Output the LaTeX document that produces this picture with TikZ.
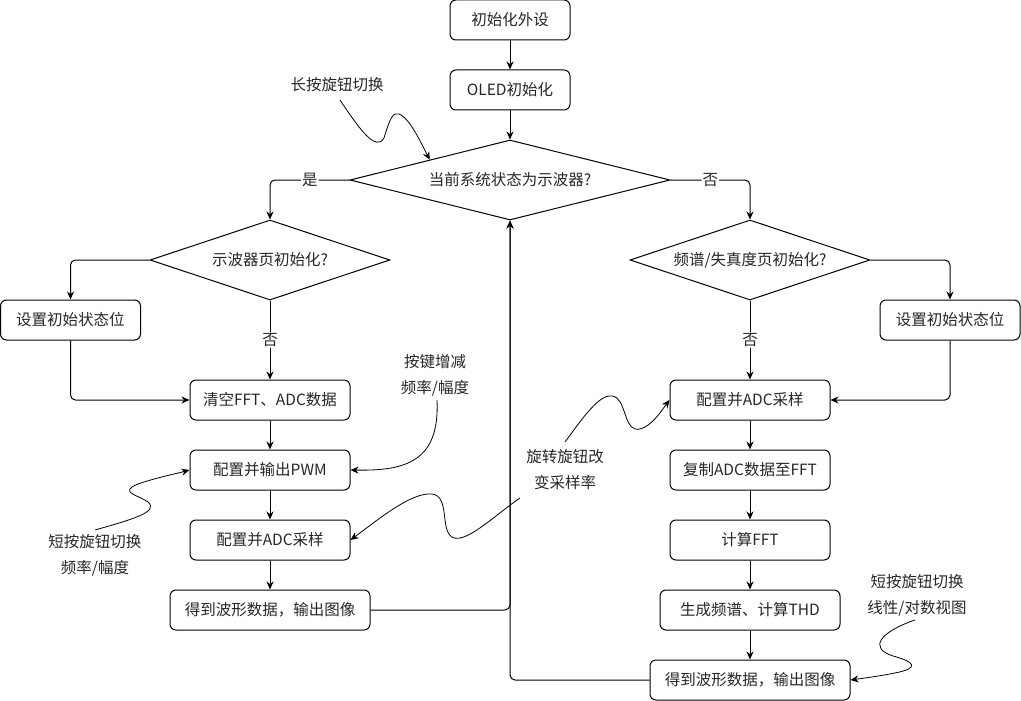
\documentclass[tikz,border=0pt]{standalone}
\usepackage{fontspec}
\setmainfont{Noto Sans CJK SC}
\usetikzlibrary{shapes.geometric,arrows.meta,calc}
\begin{document}
\begin{tikzpicture}[x=1pt,y=-1pt,
  every node/.style={font=\fontsize{15.5}{18}\selectfont, text=black!85},
  box/.style={draw=black, rounded corners=6pt, minimum height=40pt, inner sep=0pt, line width=1pt},
  dec/.style={draw=black, diamond, inner sep=0pt, line width=1pt},
  arr/.style={-{Stealth[length=8pt,width=7pt]}, line width=1pt, rounded corners=5pt},
  carr/.style={-{Stealth[length=8pt,width=7pt]}, line width=0.8pt},
  lbl/.style={fill=white, inner sep=1pt},
  note/.style={align=center, font=\fontsize{15.5}{26}\selectfont, inner sep=0pt}]
\useasboundingbox (0,0) rectangle (1021,701);

\node[box, minimum width=120pt] (init) at (510,20) {初始化外设};
\node[box, minimum width=120pt] (oled) at (510,90) {OLED初始化};
\node[dec, aspect=4, minimum width=320pt, minimum height=80pt] (d0) at (510,180) {当前系统状态为示波器?};
\node[dec, aspect=3, minimum width=240pt, minimum height=80pt] (d1) at (270,260) {示波器页初始化?};
\node[dec, aspect=3, minimum width=240pt, minimum height=80pt] (d2) at (750,260) {频谱/失真度页初始化?};
\node[box, minimum width=140pt] (s1) at (70.5,320) {设置初始状态位};
\node[box, minimum width=140pt] (s2) at (950,320) {设置初始状态位};
\node[box, minimum width=160pt] (clr) at (270,400) {清空FFT、ADC数据};
\node[box, minimum width=160pt] (pwm) at (270,470) {配置并输出PWM};
\node[box, minimum width=160pt] (adcL) at (270,540) {配置并ADC采样};
\node[box, minimum width=200pt] (outL) at (270,610) {得到波形数据，输出图像};
\node[box, minimum width=160pt] (adcR) at (750,400) {配置并ADC采样};
\node[box, minimum width=160pt] (copy) at (750,470) {复制ADC数据至FFT};
\node[box, minimum width=160pt] (fft) at (750,540) {计算FFT};
\node[box, minimum width=180pt] (thd) at (750,610) {生成频谱、计算THD};
\node[box, minimum width=200pt] (outR) at (750,680) {得到波形数据，输出图像};

\node[note] (tLong) at (337,85) {长按旋钮切换};
\node[note] (tKey) at (435,375) {按键增减\\频率/幅度};
\node[note] (tRot) at (565,470) {旋转旋钮改\\变采样率};
\node[note] (tShL) at (95,555) {短按旋钮切换\\频率/幅度};
\node[note] (tShR) at (917,595) {短按旋钮切换\\线性/对数视图};

\coordinate (cLong) at (340,100);
\coordinate (cKey) at (437,400);
\coordinate (cRotR) at (565,442);
\coordinate (cRotL) at (520,498);
\coordinate (cShL) at (95,530);
\coordinate (cShR) at (915,620);

% main flow
\draw[arr] (init) -- (oled);
\draw[arr] (oled) -- (d0);
\draw[arr] (d0.west) -| node[lbl, pos=0.25] {是} (d1.north);
\draw[arr] (d0.east) -| node[lbl, pos=0.25] {否} (d2.north);
\draw[arr] (d1.west) -| (s1.north);
\draw[arr] (d1.south) -- node[lbl] {否} (clr.north);
\draw[arr] (s1.south) |- (clr.west);
\draw[arr] (clr) -- (pwm);
\draw[arr] (pwm) -- (adcL);
\draw[arr] (adcL) -- (outL);
\draw[arr] (outL.east) -| (d0.south);
\draw[arr] (outR.west) -| (d0.south);
\draw[arr] (d2.east) -| (s2.north);
\draw[arr] (d2.south) -- node[lbl] {否} (adcR.north);
\draw[arr] (s2.south) |- (adcR.east);
\draw[arr] (adcR) -- (copy);
\draw[arr] (copy) -- (fft);
\draw[arr] (fft) -- (thd);
\draw[arr] (thd) -- (outR);

% annotation curves
\draw[carr] (cLong) .. controls (360,130) and (376,152) .. (384,138)
  .. controls (390,118) and (393,112) .. (399,114)
  .. controls (410,118) and (422,145) .. ($(d0.west)!0.5!(d0.north)$);
\draw[carr] (cKey) .. controls (440,462) and (405,471) .. (pwm.east);
\draw[carr] (cRotR) .. controls (585,415) and (603,388) .. (617,398)
  .. controls (627,408) and (625,432) .. (640,429)
  .. controls (652,426) and (662,410) .. (adcR.west);
\draw[carr] (cRotL) .. controls (495,515) and (465,545) .. (452,537)
  .. controls (440,530) and (450,496) .. (432,494)
  .. controls (412,492) and (380,518) .. (adcL.east);
\draw[carr] (cShL) .. controls (130,520) and (160,512) .. (148,502)
  .. controls (138,495) and (118,492) .. (138,484)
  .. controls (155,478) and (175,474) .. (pwm.west);
\draw[carr] (cShR) .. controls (880,632) and (868,648) .. (893,656)
  .. controls (915,662) and (920,668) .. (895,673)
  .. controls (880,676) and (865,678) .. (outR.east);
\end{tikzpicture}
\end{document}
